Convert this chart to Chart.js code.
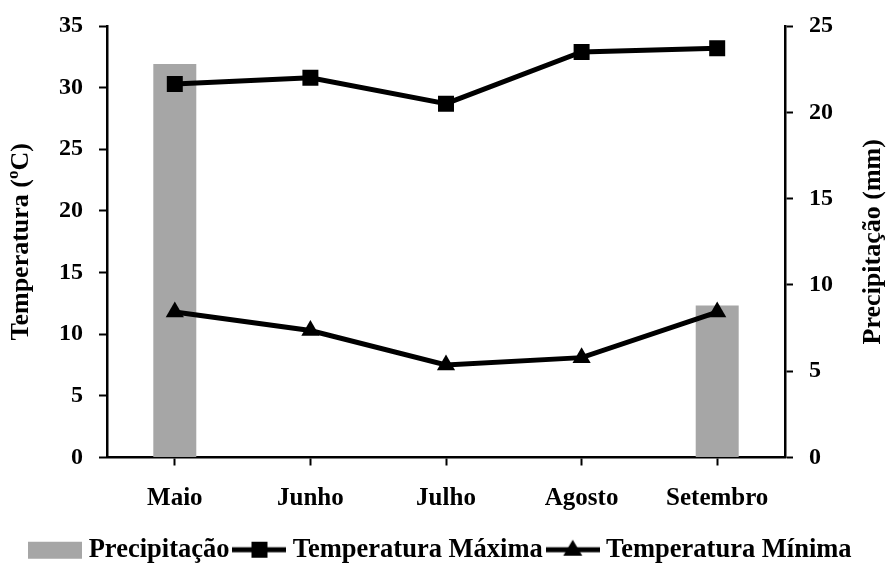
<!DOCTYPE html>
<html>
<head>
<meta charset="utf-8">
<script src="https://cdn.jsdelivr.net/npm/chart.js@4/dist/chart.umd.min.js"></script>
<style>
  html, body { margin: 0; padding: 0; background: #ffffff; }
  #wrap { width: 887px; height: 577px; }
</style>
</head>
<body>
<div id="wrap"><canvas id="grafico" width="887" height="577"></canvas></div>
<script>
// Meses e valores mensais
const meses = ['Maio', 'Junho', 'Julho', 'Agosto', 'Setembro'];
const precipitacao = [22.8, 0, 0, 0, 8.8];          // mm
const temperaturaMaxima = [30.3, 30.8, 28.7, 32.9, 33.2]; // ºC
const temperaturaMinima = [11.8, 10.3, 7.5, 8.1, 11.8];  // ºC

// Escalas
const ticksTemperatura = { min: 0, max: 35, step: 5 };
const ticksPrecipitacao = { min: 0, max: 25, step: 5 };
const tituloPrecipitacao = 'Precipitação (mm)';

const FONTE = "'Liberation Serif', 'Times New Roman', serif";
const CINZA = '#a6a6a6';

// Amostras desenhadas para a legenda (barra, linha com quadrado, linha com triângulo)
function amostra(tipo) {
  const c = document.createElement('canvas');
  c.width = 54; c.height = 26;
  const g = c.getContext('2d');
  const cy = 13;
  if (tipo === 'barra') {
    g.fillStyle = CINZA;
    g.fillRect(0, cy - 8, 54, 17);
    return c;
  }
  g.strokeStyle = '#000'; g.lineWidth = 5;
  g.beginPath(); g.moveTo(0, cy); g.lineTo(54, cy); g.stroke();
  g.fillStyle = '#000';
  if (tipo === 'quadrado') {
    g.fillRect(27 - 8, cy - 8, 16, 16);
  } else {
    g.beginPath();
    g.moveTo(27, cy - 10);
    g.lineTo(27 + 9.5, cy + 6);
    g.lineTo(27 - 9.5, cy + 6);
    g.closePath(); g.fill();
  }
  return c;
}
const simbolos = [amostra('barra'), amostra('quadrado'), amostra('triangulo')];

// Título do eixo direito, lido de baixo para cima como o do eixo esquerdo
const tituloDireito = {
  id: 'tituloDireito',
  afterDraw(chart) {
    const { ctx, chartArea } = chart;
    const escala = chart.scales.yP;
    ctx.save();
    ctx.translate(escala.right - 14, (chartArea.top + chartArea.bottom) / 2);
    ctx.rotate(-Math.PI / 2);
    ctx.fillStyle = '#000';
    ctx.font = "bold 26px " + FONTE;
    ctx.textAlign = 'center';
    ctx.textBaseline = 'middle';
    ctx.fillText(tituloPrecipitacao, 0, 0);
    ctx.restore();
  }
};

const eixoTicks = {
  color: '#000',
  font: { family: FONTE, size: 24, weight: 'bold' },
};

// Largura fixa dos eixos verticais, sem folga extra acima/abaixo da área do gráfico
function ajustarEixoY(largura) {
  return (s) => {
    s.width = largura;
    s.paddingTop = 0;
    s.paddingBottom = 0;
  };
}

new Chart(document.getElementById('grafico'), {
  data: {
    labels: meses,
    datasets: [
      {
        type: 'bar',
        label: 'Precipitação',
        data: precipitacao,
        yAxisID: 'yP',
        backgroundColor: CINZA,
        borderWidth: 0,
        barPercentage: 0.317,
        categoryPercentage: 1.0,
        order: 2
      },
      {
        type: 'line',
        label: 'Temperatura Máxima',
        data: temperaturaMaxima,
        yAxisID: 'yT',
        borderColor: '#000',
        backgroundColor: '#000',
        borderWidth: 5,
        pointStyle: 'rect',
        pointRadius: 11.3,
        pointBorderWidth: 0,
        tension: 0,
        order: 1
      },
      {
        type: 'line',
        label: 'Temperatura Mínima',
        data: temperaturaMinima,
        yAxisID: 'yT',
        borderColor: '#000',
        backgroundColor: '#000',
        borderWidth: 5,
        pointStyle: 'triangle',
        pointRadius: 10.5,
        pointBorderWidth: 0,
        tension: 0,
        order: 1
      }
    ]
  },
  options: {
    responsive: false,
    animation: false,
    devicePixelRatio: 1,
    layout: { padding: { top: 26, left: 0, right: 0, bottom: 4 } },
    plugins: {
      tooltip: { enabled: false },
      legend: {
        position: 'bottom',
        labels: {
          color: '#000',
          font: { family: FONTE, size: 26.5, weight: 'bold' },
          usePointStyle: true,
          pointStyleWidth: 40,
          padding: 10,
          generateLabels: (chart) => chart.data.datasets.map((ds, i) => ({
            text: ds.label,
            pointStyle: simbolos[i],
            fillStyle: '#000',
            strokeStyle: '#000',
            lineWidth: 0,
            hidden: false,
            datasetIndex: i
          }))
        }
      }
    },
    scales: {
      x: {
        offset: true,
        afterFit: (s) => { s.height = 69; },
        grid: { display: true, drawOnChartArea: false, offset: false, tickLength: 8, tickWidth: 2, color: '#000' },
        border: { display: true, color: '#000', width: 2.5 },
        ticks: { ...eixoTicks, font: { family: FONTE, size: 25, weight: 'bold' }, padding: 18, maxRotation: 0 }
      },
      yT: {
        position: 'left',
        min: ticksTemperatura.min,
        max: ticksTemperatura.max,
        afterFit: ajustarEixoY(107),
        grid: { display: true, drawOnChartArea: false, tickLength: 8, tickWidth: 2, color: '#000' },
        border: { display: true, color: '#000', width: 2.5 },
        ticks: { ...eixoTicks, stepSize: ticksTemperatura.step, padding: 16 },
        title: {
          display: true,
          text: 'Temperatura (ºC)',
          color: '#000',
          font: { family: FONTE, size: 26, weight: 'bold' },
          padding: { top: 6, bottom: 0 }
        }
      },
      yP: {
        position: 'right',
        min: ticksPrecipitacao.min,
        max: ticksPrecipitacao.max,
        afterFit: ajustarEixoY(102),
        grid: { display: true, drawOnChartArea: false, tickLength: 8, tickWidth: 2, color: '#000' },
        border: { display: true, color: '#000', width: 2.5 },
        ticks: { ...eixoTicks, stepSize: ticksPrecipitacao.step, padding: 16 },
        title: { display: false }
      }
    }
  },
  plugins: [tituloDireito]
});
</script>
</body>
</html>
